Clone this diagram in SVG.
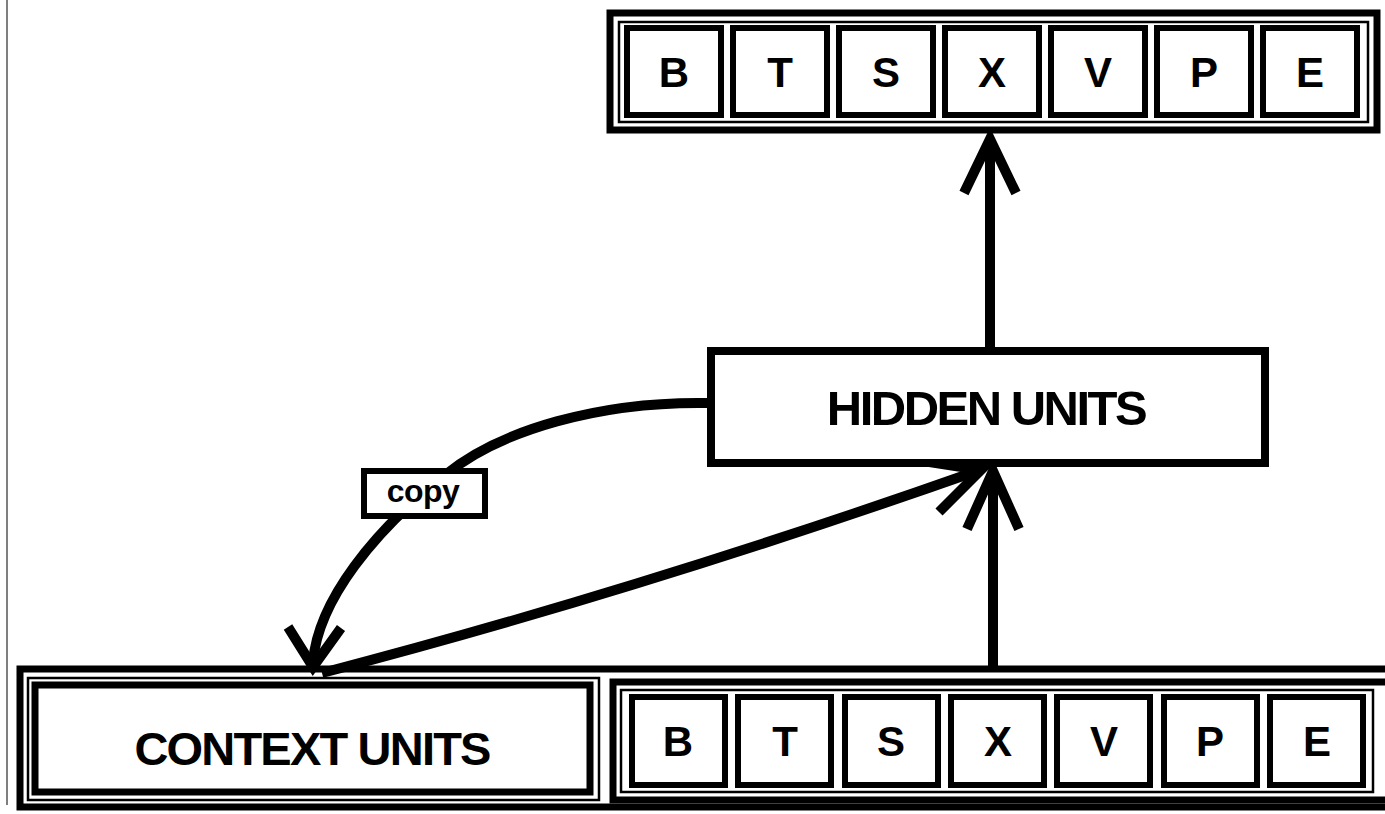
<svg xmlns="http://www.w3.org/2000/svg" width="1385" height="814" viewBox="0 0 1385 814">
<style>
.thick{fill:none;stroke:#000;stroke-width:7}
.thin{fill:none;stroke:#000;stroke-width:2.5}
.cell{fill:#fff;stroke:#000;stroke-width:6}
.box{fill:#fff;stroke:#000;stroke-width:8}
.let{font-family:"Liberation Sans",Arial,sans-serif;font-weight:bold;font-size:42px;text-anchor:middle;fill:#000}
.big{font-family:"Liberation Sans",Arial,sans-serif;font-weight:bold;text-anchor:middle;fill:#000}
.arr{fill:none;stroke:#000;stroke-width:10;stroke-linecap:butt;stroke-linejoin:miter;stroke-miterlimit:10}
</style>
<rect width="1385" height="814" fill="#fff"/>
<line x1="7" y1="0" x2="7" y2="805" stroke="#555" stroke-width="1.5"/>

<g id="connectors">
<line class="arr" x1="990" y1="350" x2="990" y2="140"/>
<polyline class="arr" points="964,193 990,139 1016,193"/>
<line class="arr" x1="993" y1="670" x2="993" y2="472"/>
<polyline class="arr" points="967,529 993,471 1019,529"/>
<path class="arr" d="M322,673 Q640,590 980,470"/>
<polyline class="arr" points="939,512 981,470 923,461"/>
<path class="arr" d="M709,403 C600,401 500,430 445,475 C375,530 318,600 313,662"/>
<polyline class="arr" points="288,627 313,667 341,628"/>
</g>

<g id="output-layer">
<rect class="thick" x="610" y="13" width="767" height="117"/>
<rect class="thin" x="619" y="22" width="749" height="100"/>
<g id="out-B"><rect class="cell" x="627" y="28" width="94" height="87"/><text class="let" x="674" y="87">B</text></g>
<g id="out-T"><rect class="cell" x="733" y="28" width="94" height="87"/><text class="let" x="780" y="87">T</text></g>
<g id="out-S"><rect class="cell" x="839" y="28" width="94" height="87"/><text class="let" x="886" y="87">S</text></g>
<g id="out-X"><rect class="cell" x="945" y="28" width="94" height="87"/><text class="let" x="992" y="87">X</text></g>
<g id="out-V"><rect class="cell" x="1051" y="28" width="94" height="87"/><text class="let" x="1098" y="87">V</text></g>
<g id="out-P"><rect class="cell" x="1157" y="28" width="94" height="87"/><text class="let" x="1204" y="87">P</text></g>
<g id="out-E"><rect class="cell" x="1263" y="28" width="94" height="87"/><text class="let" x="1310" y="87">E</text></g>
</g>

<g id="hidden">
<rect class="box" x="711" y="351" width="554" height="112"/>
<text class="big" x="986" y="425" font-size="49" letter-spacing="-2.5">HIDDEN UNITS</text>
</g>

<g id="copy">
<rect fill="#fff" stroke="#000" stroke-width="6" x="364" y="471" width="121" height="45"/>
<text class="big" x="423" y="502" font-size="32" letter-spacing="-0.5">copy</text>
</g>

<g id="input-layer">
<rect class="thick" x="20" y="669" width="1380" height="138"/>
<g id="context">
<rect class="thin" x="28" y="678" width="571" height="122"/>
<rect class="thick" x="35" y="685" width="555" height="107"/>
<text class="big" x="312" y="765" font-size="47" letter-spacing="-1.8">CONTEXT UNITS</text>
</g>
<rect class="thick" x="613" y="682" width="780" height="118"/>
<rect class="thin" x="621" y="690" width="752" height="102"/>
<g id="in-B"><rect class="cell" x="632" y="697" width="93" height="88"/><text class="let" x="678" y="756">B</text></g>
<g id="in-T"><rect class="cell" x="738" y="697" width="93" height="88"/><text class="let" x="785" y="756">T</text></g>
<g id="in-S"><rect class="cell" x="845" y="697" width="93" height="88"/><text class="let" x="891" y="756">S</text></g>
<g id="in-X"><rect class="cell" x="951" y="697" width="93" height="88"/><text class="let" x="998" y="756">X</text></g>
<g id="in-V"><rect class="cell" x="1057" y="697" width="93" height="88"/><text class="let" x="1104" y="756">V</text></g>
<g id="in-P"><rect class="cell" x="1164" y="697" width="93" height="88"/><text class="let" x="1210" y="756">P</text></g>
<g id="in-E"><rect class="cell" x="1270" y="697" width="93" height="88"/><text class="let" x="1317" y="756">E</text></g>
</g>
</svg>
